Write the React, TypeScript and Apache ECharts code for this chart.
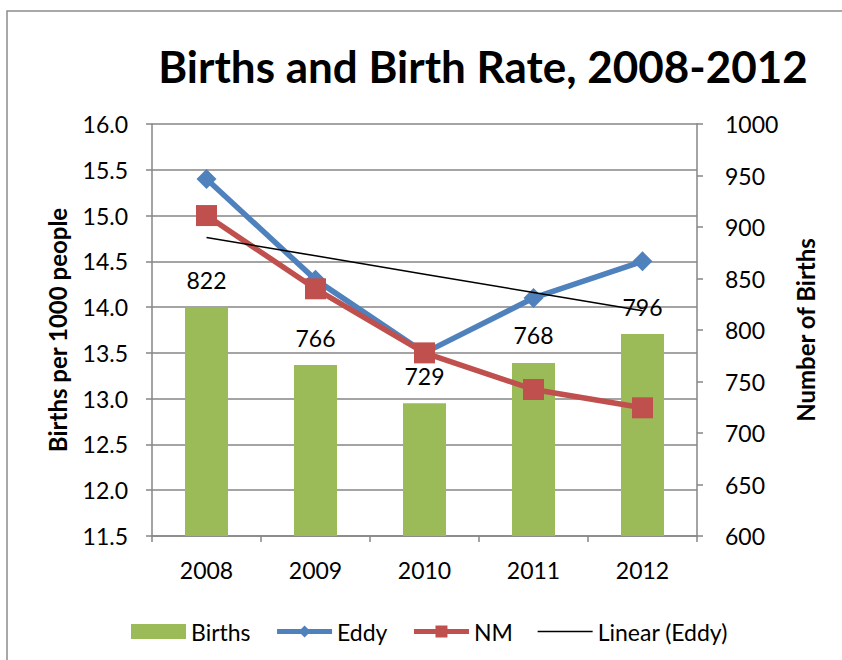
import React, { useEffect, useRef } from "react";
import * as echarts from "echarts";

const years = ["2008", "2009", "2010", "2011", "2012"];
const births = [822, 766, 729, 768, 796];
const eddy = [15.4, 14.3, 13.5, 14.1, 14.5];
const nm = [15.0, 14.2, 13.5, 13.1, 12.9];

function linearTrend(vals: number[]): number[] {
  const n = vals.length;
  const xs = vals.map((_, i) => i);
  const mx = xs.reduce((a, b) => a + b, 0) / n;
  const my = vals.reduce((a, b) => a + b, 0) / n;
  let num = 0, den = 0;
  xs.forEach((x, i) => { num += (x - mx) * (vals[i] - my); den += (x - mx) * (x - mx); });
  const slope = num / den;
  return xs.map((x) => +(my + slope * (x - mx)).toFixed(4));
}

const FONT = "Lato, 'Noto Sans', sans-serif";
const GREEN = "#9BBB59";
const BLUE = "#4F81BD";
const RED = "#C0504D";
const AXIS = "#868686";

export default function App() {
  const ref = useRef<HTMLDivElement>(null);
  useEffect(() => {
    const chart = echarts.init(ref.current!, null, { renderer: "svg" });
    const trend = linearTrend(eddy);
    chart.setOption({
      animation: false,
      textStyle: { fontFamily: FONT, color: "#000" },
      graphic: [
        {
          type: "rect",
          shape: { x: 7, y: 11, width: 900, height: 700 },
          style: { fill: "none", stroke: "#8c8c8c", lineWidth: 1.5 },
          silent: true,
        },
      ],
      title: {
        text: "Births and Birth Rate, 2008-2012",
        left: 478,
        top: 39,
        textAlign: "center",
        textStyle: { fontFamily: FONT, fontSize: 44, fontWeight: "bold", color: "#000" },
      },
      grid: { left: 152, right: 145, top: 124, bottom: 124, containLabel: false },
      legend: {
        left: 126,
        top: 615,
        itemWidth: 55,
        itemHeight: 15,
        itemGap: 24,
        textStyle: { fontFamily: FONT, fontSize: 23, color: "#000" },
        data: [
          { name: "Births", icon: "rect" },
          { name: "Eddy", lineStyle: { width: 5 } },
          { name: "NM", lineStyle: { width: 5 } },
          { name: "Linear (Eddy)", itemStyle: { opacity: 0 }, lineStyle: { width: 1.5, color: "#000" } },
        ],
      },
      xAxis: {
        type: "category",
        data: years,
        axisLine: { lineStyle: { color: AXIS, width: 1.5 } },
        axisTick: { show: true, length: 6, inside: false, alignWithLabel: false, lineStyle: { color: AXIS, width: 1.5 } },
        axisLabel: { fontFamily: FONT, fontSize: 23, color: "#000", margin: 22 },
      },
      yAxis: [
        {
          type: "value",
          min: 11.5,
          max: 16,
          interval: 0.5,
          name: "Births per 1000 people",
          nameLocation: "middle",
          nameRotate: 90,
          nameGap: 83,
          nameTextStyle: { fontFamily: FONT, fontSize: 24, fontWeight: "bold", color: "#000" },
          axisLine: { show: true, lineStyle: { color: AXIS, width: 1.5 } },
          axisTick: { show: true, length: 6, lineStyle: { color: AXIS, width: 1.5 } },
          axisLabel: { fontFamily: FONT, fontSize: 23, color: "#000", margin: 24, formatter: (v: number) => v.toFixed(1) },
          splitLine: { show: true, lineStyle: { color: AXIS, width: 1.5 } },
        },
        {
          type: "value",
          min: 600,
          max: 1000,
          interval: 50,
          position: "right",
          name: "Number of Births",
          nameLocation: "middle",
          nameRotate: 90,
          nameGap: 96,
          nameTextStyle: { fontFamily: FONT, fontSize: 24, fontWeight: "bold", color: "#000" },
          axisLine: { show: true, lineStyle: { color: AXIS, width: 1.5 } },
          axisTick: { show: true, length: 6, lineStyle: { color: AXIS, width: 1.5 } },
          axisLabel: { fontFamily: FONT, fontSize: 23, color: "#000", margin: 28, formatter: (v: number) => String(v) },
          splitLine: { show: false },
        },
      ],
      series: [
        {
          name: "Births",
          type: "bar",
          yAxisIndex: 1,
          barWidth: 43,
          itemStyle: { color: GREEN },
          z: 1,
          data: births,
          label: { show: true, position: "top", distance: 16, fontFamily: FONT, fontSize: 23, color: "#000" },
        },
        {
          name: "Eddy",
          type: "line",
          data: eddy,
          symbol: "diamond",
          symbolSize: 20,
          lineStyle: { color: BLUE, width: 5.5 },
          itemStyle: { color: BLUE },
          z: 3,
        },
        {
          name: "NM",
          type: "line",
          data: nm,
          symbol: "rect",
          symbolSize: 21,
          lineStyle: { color: RED, width: 5.5 },
          itemStyle: { color: RED },
          z: 4,
        },
        {
          name: "Linear (Eddy)",
          type: "line",
          data: trend,
          symbol: "none",
          lineStyle: { color: "#000", width: 1.5 },
          itemStyle: { color: "#000" },
          z: 5,
        },
      ],
    });
    return () => chart.dispose();
  }, []);
  return (
    <div
      ref={ref}
      style={{ position: "absolute", left: 0, top: 0, width: 842, height: 660, background: "#fff" }}
    />
  );
}
